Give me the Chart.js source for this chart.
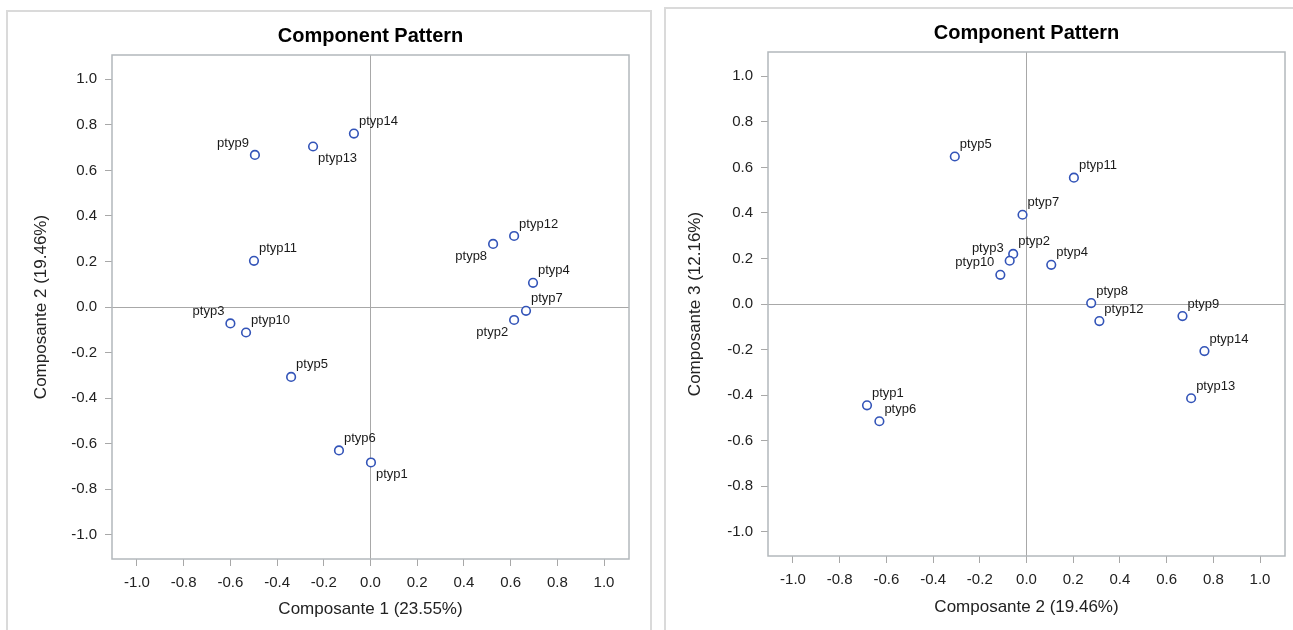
<!DOCTYPE html>
<html>
<head>
<meta charset="utf-8">
<script src="https://cdn.jsdelivr.net/npm/chart.js@4.4.0/dist/chart.umd.min.js"></script>
<style>
  body { margin: 0; background: #fff; width: 1293px; height: 630px; overflow: hidden; position: relative; }
  .panel { position: absolute; border: 2px solid #dadada; box-sizing: border-box; }
  #p1 { left: 6px; top: 10px; width: 646px; height: 640px; }
  #p2 { left: 664px; top: 7px; width: 660px; height: 640px; }
  .wrap { position: absolute; top: 0; }
  #w1 { left: 0; width: 658px; height: 630px; }
  #w2 { left: 658px; width: 635px; height: 630px; }
</style>
</head>
<body>
<div class="panel" id="p1"></div>
<div class="panel" id="p2"></div>
<div class="wrap" id="w1"><canvas id="chart1" width="658" height="630"></canvas></div>
<div class="wrap" id="w2"><canvas id="chart2" width="635" height="630"></canvas></div>
<script>
// Component loadings
const varNames = ['ptyp1', 'ptyp2', 'ptyp3', 'ptyp4', 'ptyp5', 'ptyp6', 'ptyp7',
                  'ptyp8', 'ptyp9', 'ptyp10', 'ptyp11', 'ptyp12', 'ptyp13', 'ptyp14'];
const comp1 = [0.002, 0.615, -0.600, 0.696, -0.340, -0.135, 0.666,
               0.525, -0.495, -0.533, -0.499, 0.615, -0.246, -0.071];
const comp2 = [-0.683, -0.057, -0.072, 0.106, -0.307, -0.630, -0.017,
               0.277, 0.668, -0.112, 0.203, 0.312, 0.705, 0.762];
const comp3 = [-0.445, 0.220, 0.190, 0.172, 0.648, -0.515, 0.392,
               0.004, -0.053, 0.128, 0.555, -0.075, -0.414, -0.207];
const tickValues = [-1.0, -0.8, -0.6, -0.4, -0.2, 0, 0.2, 0.4, 0.6, 0.8, 1.0];

// where each label sits around its point
const place1 = ['se', 'sw', 'nw', 'ne', 'ne', 'ne', 'ne', 'sw', 'nw', 'ne', 'ne', 'ne', 'se', 'ne'];
const place2 = ['ne', 'ne', 'nw', 'ne', 'ne', 'ne', 'ne', 'ne', 'ne', 'nw', 'ne', 'ne', 'ne', 'ne'];

const FONT = '"Liberation Sans", Arial, Helvetica, sans-serif';
const MARKER = '#3354b8';

const frameAndLabels = {
  id: 'frameAndLabels',
  afterDatasetsDraw(chart, args, opts) {
    const ctx = chart.ctx;
    const a = chart.chartArea;
    ctx.save();
    ctx.strokeStyle = '#b3b8bc';
    ctx.lineWidth = 1.5;
    ctx.strokeRect(a.left, a.top, a.right - a.left, a.bottom - a.top);

    const meta = chart.getDatasetMeta(0);
    ctx.font = '13px ' + FONT;
    ctx.fillStyle = '#1a1a1a';
    ctx.textBaseline = 'middle';
    meta.data.forEach((pt, i) => {
      const p = opts.place[i];
      const dx = p.endsWith('e') ? 5 : -6;
      const dy = p.startsWith('n') ? -12 : 12;
      ctx.textAlign = p.endsWith('e') ? 'left' : 'right';
      ctx.fillText(varNames[i], pt.x + dx, pt.y + dy);
    });
    ctx.restore();
  }
};

function makeAxis(title, isX, fit, titlePad) {
  return {
    type: 'linear',
    min: -1.107,
    max: 1.107,
    afterBuildTicks: s => { s.ticks = tickValues.map(v => ({ value: v })); },
    afterFit: s => { if (isX) s.height = fit; else s.width = fit; },
    ticks: {
      callback: v => v.toFixed(1),
      font: { size: 15, family: FONT },
      color: '#222',
      padding: isX ? 8 : 8,
      maxRotation: 0,
      autoSkip: false
    },
    grid: {
      color: c => (c.tick && c.tick.value === 0) ? '#a8a8a8' : 'rgba(0,0,0,0)',
      tickColor: '#a8a8a8',
      tickLength: 7,
      lineWidth: 1
    },
    border: { display: false },
    title: {
      display: true,
      text: title,
      font: { size: 17, family: FONT },
      color: '#222',
      padding: isX ? { top: 0, bottom: titlePad } : { top: titlePad, bottom: 0 }
    }
  };
}

function createChart(id, xs, ys, xTitle, yTitle, layout) {
  const points = xs.map((x, i) => ({ x: x, y: ys[i] }));
  return new Chart(document.getElementById(id), {
    type: 'scatter',
    data: {
      datasets: [{
        data: points,
        pointStyle: 'circle',
        pointRadius: 4.3,
        pointBorderWidth: 1.6,
        pointBorderColor: MARKER,
        pointBackgroundColor: '#fff'
      }]
    },
    options: {
      responsive: false,
      animation: false,
      layout: { padding: { left: 0, right: layout.right, top: 0, bottom: 0 } },
      plugins: {
        legend: { display: false },
        tooltip: { enabled: false },
        title: {
          display: true,
          fullSize: false,
          text: 'Component Pattern',
          color: '#000',
          font: { size: 20, weight: 'bold', family: FONT },
          padding: { top: layout.titleTop, bottom: 7 }
        },
        frameAndLabels: { place: layout.place }
      },
      scales: {
        x: makeAxis(xTitle, true, layout.xHeight, layout.xTitlePad),
        y: makeAxis(yTitle, false, layout.yWidth, layout.yTitlePad)
      }
    },
    plugins: [frameAndLabels]
  });
}

createChart('chart1', comp1, comp2, 'Composante 1 (23.55%)', 'Composante 2 (19.46%)',
  { right: 29, titleTop: 24, xHeight: 71, xTitlePad: 10.8, yWidth: 112, yTitlePad: 30.8, place: place1 });
createChart('chart2', comp2, comp3, 'Composante 2 (19.46%)', 'Composante 3 (12.16%)',
  { right: 8, titleTop: 21, xHeight: 74, xTitlePad: 12.8, yWidth: 110, yTitlePad: 26.8, place: place2 });
</script>
</body>
</html>
